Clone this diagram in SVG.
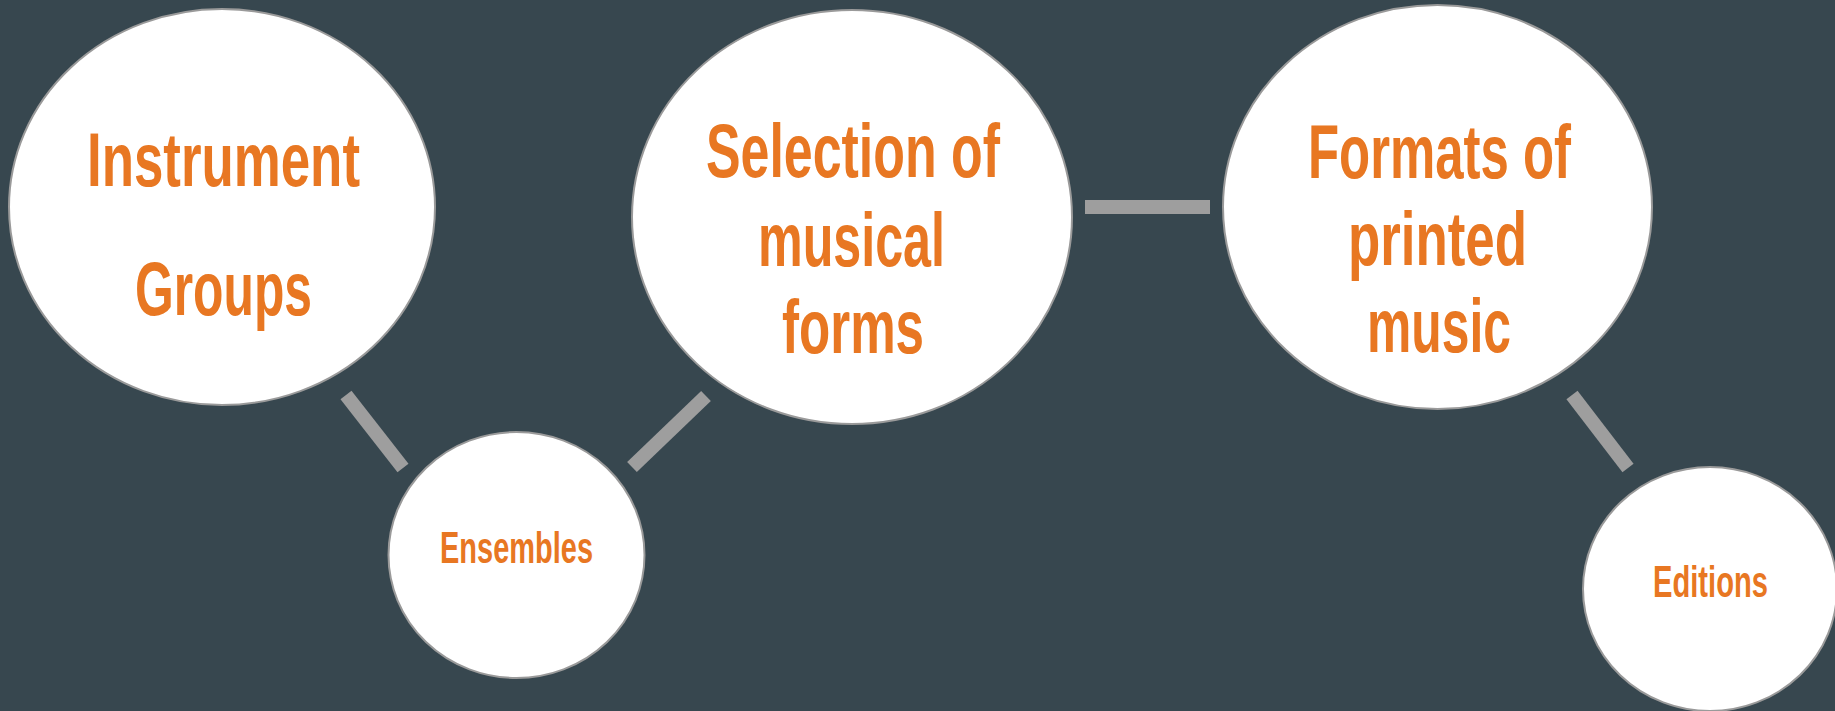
<svg xmlns="http://www.w3.org/2000/svg" width="1835" height="711" viewBox="0 0 1835 711">
<style>
.node{fill:#ffffff;stroke:#9a9a9a;stroke-width:2}
.lbl{font-family:"Liberation Sans",Arial,sans-serif;font-weight:bold;fill:#E87722;text-anchor:middle}
.big{font-size:76px}
.small{font-size:45px}
.conn{stroke:#9e9e9e;stroke-width:14;fill:none}
</style>
<rect x="0" y="0" width="1835" height="711" fill="#37474F"/>
<g id="connectors">
<line class="conn" x1="346" y1="395" x2="403" y2="468"/>
<line class="conn" x1="706" y1="396" x2="632" y2="467"/>
<line class="conn" x1="1085" y1="207" x2="1210" y2="207"/>
<line class="conn" x1="1572" y1="395" x2="1628" y2="468"/>
</g>
<g id="node-instrument">
<ellipse class="node" cx="222" cy="207" rx="213" ry="198"/>
<text class="lbl big" x="223.5" y="186" textLength="273" lengthAdjust="spacingAndGlyphs">Instrument</text>
<text class="lbl big" x="223.5" y="315" textLength="177" lengthAdjust="spacingAndGlyphs">Groups</text>
</g>
<g id="node-ensembles">
<ellipse class="node" cx="516.5" cy="555" rx="128" ry="123"/>
<text class="lbl small" x="516.5" y="563" textLength="153" lengthAdjust="spacingAndGlyphs">Ensembles</text>
</g>
<g id="node-selection">
<ellipse class="node" cx="852" cy="217" rx="220" ry="207"/>
<text class="lbl big" x="853" y="177" textLength="294" lengthAdjust="spacingAndGlyphs">Selection of</text>
<text class="lbl big" x="851.5" y="266" textLength="187" lengthAdjust="spacingAndGlyphs">musical</text>
<text class="lbl big" x="853" y="353" textLength="142" lengthAdjust="spacingAndGlyphs">forms</text>
</g>
<g id="node-formats">
<ellipse class="node" cx="1437.5" cy="207" rx="214.5" ry="202"/>
<text class="lbl big" x="1439.5" y="178" textLength="263" lengthAdjust="spacingAndGlyphs">Formats of</text>
<text class="lbl big" x="1437.5" y="265" textLength="179" lengthAdjust="spacingAndGlyphs">printed</text>
<text class="lbl big" x="1439" y="352" textLength="144" lengthAdjust="spacingAndGlyphs">music</text>
</g>
<g id="node-editions">
<ellipse class="node" cx="1710" cy="589" rx="127" ry="122"/>
<text class="lbl small" x="1710.5" y="597" textLength="115" lengthAdjust="spacingAndGlyphs">Editions</text>
</g>
</svg>
